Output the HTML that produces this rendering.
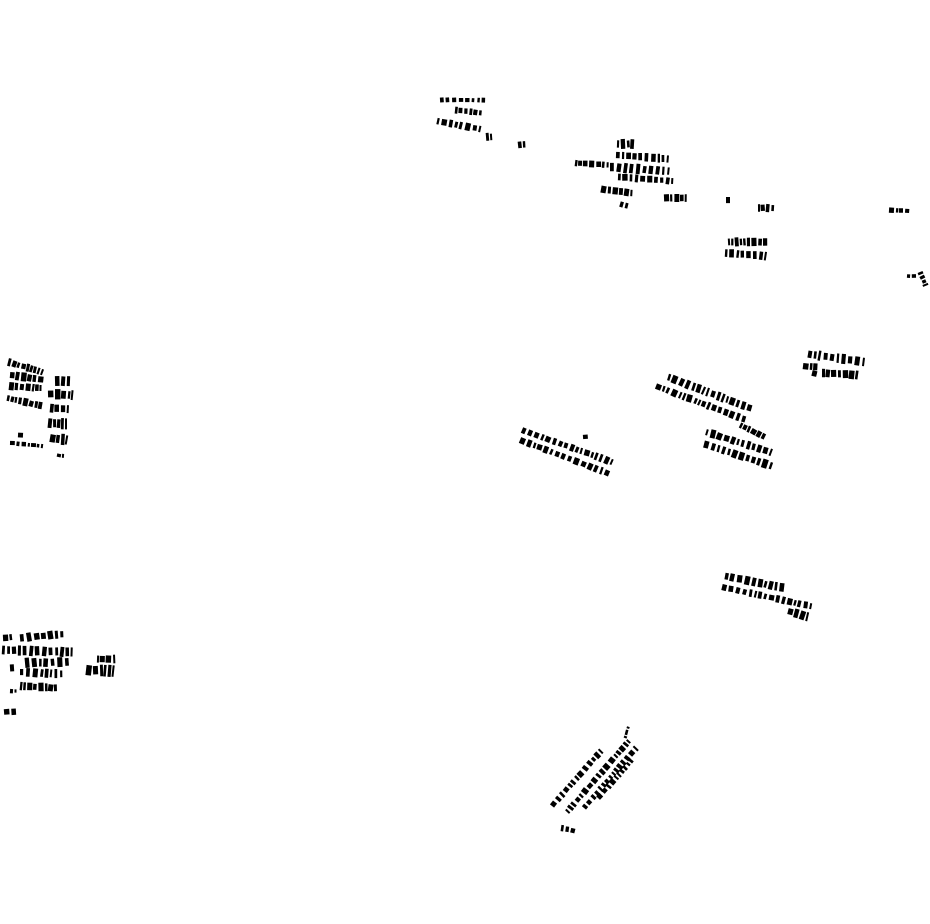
<!DOCTYPE html>
<html><head><meta charset="utf-8"><style>html,body{margin:0;padding:0;background:#fff}svg{display:block}</style></head>
<body>
<svg id="s" width="930" height="924" viewBox="0 0 930 924" xmlns="http://www.w3.org/2000/svg" fill="#000"></svg>
<script>
var s=document.getElementById('s');var seed=7;
function r(){seed=(seed*9301+49297)%233280;return seed/233280;}
var rows=[
[440,100,486,100,5],[455,110,482,113,6],[437,121,480,129,7],[486,137,492,137,7],[518,145,526,144,6],
[617,144,634,144,9],[616,155,668,159,8],[610,167,668,171,9],[618,177,672,181,7],[575,163,608,165,6],[601,189,631,193,7],[620,204,628,206,5],[664,198,686,198,8],[726,200,730,200,6],[758,208,774,208,8],[889,210,910,211,5],
[728,242,768,242,8],[725,253,765,256,8],[907,276,916,276,4],[920,272,926,286,5],
[8,362,42,372,7],[10,375,44,380,8],[9,386,40,388,7],[7,398,42,406,7],[55,381,70,381,9],[48,394,72,395,9],[50,408,67,409,9],[48,423,67,424,10],[50,438,67,440,10],[10,443,42,446,4],[18,435,24,435,5],[57,455,64,456,4],
[3,638,12,637,7],[20,638,65,634,8],[2,650,72,652,9],[25,663,70,662,9],[10,668,14,668,7],[20,672,64,674,8],[97,659,115,659,8],[86,670,114,671,11],[20,686,57,688,8],[10,691,15,691,4],[4,712,16,712,6],
[522,430,612,462,7],[520,440,610,474,7],[583,437,588,437,4],
[668,377,752,409,8],[656,386,746,420,7],[706,432,770,452,8],[704,444,772,466,8],[740,425,765,437,6],
[808,354,864,362,9],[803,366,818,367,8],[822,373,858,375,9],[812,373,818,374,7],
[725,576,784,588,8],[722,587,810,606,7],[788,611,808,617,8],
[552,806,600,752,6],[567,812,628,742,6],[584,808,636,748,6],[598,798,632,760,6],[625,738,628,728,3],
[561,828,575,831,6]
];
var out='';
rows.forEach(function(w){var x1=w[0],y1=w[1],x2=w[2],y2=w[3],h=w[4];var dx=x2-x1,dy=y2-y1,L=Math.sqrt(dx*dx+dy*dy)||1;var a=Math.atan2(dy,dx)*180/Math.PI;var t=0;
while(t<L){var bw=2+r()*3.5;if(t+bw>L)bw=Math.max(2,L-t);var bh=h*(0.75+r()*0.4);var px=x1+dx*t/L,py=y1+dy*t/L;
out+='<rect x="'+px.toFixed(1)+'" y="'+(py-bh/2).toFixed(1)+'" width="'+bw.toFixed(1)+'" height="'+bh.toFixed(1)+'" transform="rotate('+(a+(r()-0.5)*10).toFixed(1)+' '+px.toFixed(1)+' '+py.toFixed(1)+')"/>';
t+=bw+(L>40?1.5:0.6)+r()*1.6;}});
s.innerHTML=out;
</script>
</body></html>
